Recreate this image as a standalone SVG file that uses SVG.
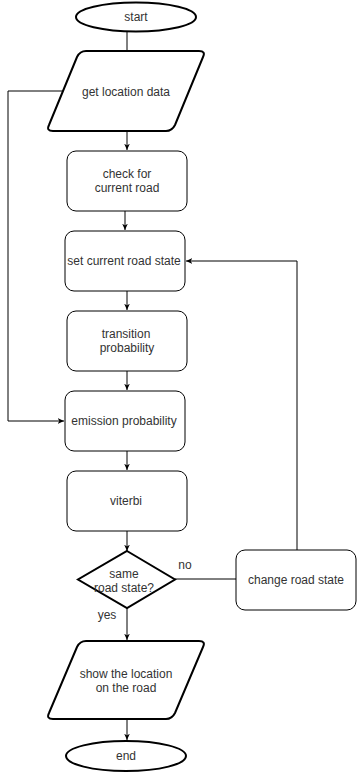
<svg xmlns="http://www.w3.org/2000/svg" width="357" height="772" viewBox="0 0 357 772">
  <style>
    .bold { fill: #ffffff; stroke: #000000; stroke-width: 2; }
    .box { fill: #ffffff; stroke: #000000; stroke-width: 1; }
    .lbl { font-family: "Liberation Sans", Arial, sans-serif; font-size: 12px; fill: #333333; text-anchor: middle; dominant-baseline: central; }
    .edge { fill: none; stroke: #000000; stroke-width: 1; }
  </style>
  <defs>
    <marker id="arrow" viewBox="0 0 10 10" refX="9" refY="5" markerWidth="7" markerHeight="7" orient="auto">
      <path d="M0,1 L9,5 L0,9 L2.5,5 Z" fill="#000000"/>
    </marker>
  </defs>
  <rect width="357" height="772" fill="#ffffff"/>

  <g id="connectors">
    <path class="edge" d="M127,31 V60" marker-end="url(#arrow)"/>
    <path class="edge" d="M127,131 V150" marker-end="url(#arrow)"/>
    <path class="edge" d="M125,211 V230" marker-end="url(#arrow)"/>
    <path class="edge" d="M127,291 V310" marker-end="url(#arrow)"/>
    <path class="edge" d="M127,371 V390" marker-end="url(#arrow)"/>
    <path class="edge" d="M127,451 V470" marker-end="url(#arrow)"/>
    <path class="edge" d="M127,531 V551" marker-end="url(#arrow)"/>
    <path class="edge" d="M127,608 V640" marker-end="url(#arrow)"/>
    <path class="edge" d="M127,719 V740" marker-end="url(#arrow)"/>
    <path class="edge" d="M67,91 H8 V421 H64" marker-end="url(#arrow)"/>
    <path class="edge" d="M175,579 H236"/>
    <path class="edge" d="M297,550 V261 H186" marker-end="url(#arrow)"/>
    <text class="lbl" x="185" y="565">no</text>
    <text class="lbl" x="107" y="615">yes</text>
  </g>

  <g id="start">
    <ellipse class="bold" cx="136" cy="17" rx="60" ry="14.5"/>
    <text class="lbl" x="136" y="17">start</text>
  </g>

  <g id="get-location">
    <path class="bold" d="M86,51 H199 Q206,51 203,57 L175,125 Q172,131 166,131 H53 Q46,131 49,125 L77,57 Q80,51 86,51 Z"/>
    <text class="lbl" x="126" y="92">get location data</text>
  </g>

  <g id="check-road">
    <rect class="box" x="67" y="151" width="120" height="60" rx="9"/>
    <text class="lbl" x="127" y="174">check for</text>
    <text class="lbl" x="127" y="188">current road</text>
  </g>

  <g id="set-state">
    <rect class="box" x="65" y="231" width="120" height="60" rx="9"/>
    <text class="lbl" x="124" y="261">set current road state</text>
  </g>

  <g id="transition">
    <rect class="box" x="67" y="311" width="120" height="60" rx="9"/>
    <text class="lbl" x="126" y="334">transition</text>
    <text class="lbl" x="127" y="348">probability</text>
  </g>

  <g id="emission">
    <rect class="box" x="65" y="391" width="120" height="60" rx="9"/>
    <text class="lbl" x="124" y="421">emission probability</text>
  </g>

  <g id="viterbi">
    <rect class="box" x="67" y="471" width="120" height="60" rx="9"/>
    <text class="lbl" x="126" y="501">viterbi</text>
  </g>

  <g id="decision">
    <path class="bold" d="M127,551 L175,579.5 L127,608 L78,579.5 Z"/>
    <text class="lbl" x="124" y="574">same</text>
    <text class="lbl" x="124" y="588">road state?</text>
  </g>

  <g id="change-state">
    <rect class="box" x="236" y="550" width="120" height="60" rx="9"/>
    <text class="lbl" x="296" y="580">change road state</text>
  </g>

  <g id="show-location">
    <path class="bold" d="M86,641 H199 Q206,641 203,647 L175,713 Q172,719 166,719 H53 Q46,719 49,713 L77,647 Q80,641 86,641 Z"/>
    <text class="lbl" x="126" y="674">show the location</text>
    <text class="lbl" x="126" y="688">on the road</text>
  </g>

  <g id="end">
    <ellipse class="bold" cx="126" cy="756" rx="60" ry="15"/>
    <text class="lbl" x="126" y="756">end</text>
  </g>
</svg>
